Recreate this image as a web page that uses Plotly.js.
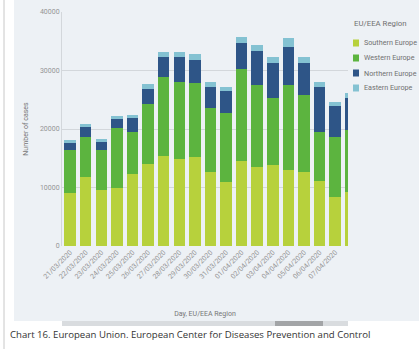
<!DOCTYPE html>
<html>
<head>
<meta charset="utf-8">
<script src="https://cdn.plot.ly/plotly-3.0.1.min.js"></script>
<style>
  html, body { margin: 0; padding: 0; background: #ffffff; }
  #chart { width: 419px; height: 349px; }
</style>
</head>
<body>
<div id="chart"></div>
<script>
// Daily reported COVID-19 cases by EU/EEA region
const days = [
  '21/03/2020', '22/03/2020', '23/03/2020', '24/03/2020', '25/03/2020',
  '26/03/2020', '27/03/2020', '28/03/2020', '29/03/2020', '30/03/2020',
  '31/03/2020', '01/04/2020', '02/04/2020', '03/04/2020', '04/04/2020',
  '05/04/2020', '06/04/2020', '07/04/2020', '08/04/2020'
];
const regions = ['Southern Europe', 'Western Europe', 'Northern Europe', 'Eastern Europe'];
const southern = [9060, 11800, 9570, 9900, 12300, 14000, 15400, 14900, 15200, 12650, 10950, 14550, 13500, 13850, 13000, 12650, 11100, 8400, 9250];
const western  = [7350, 6850, 6850, 10250, 7200, 10250, 13500, 13150, 12650, 10950, 11800, 15700, 14000, 11450, 14500, 13150, 8400, 10250, 10600];
const northern = [1200, 1700, 1350, 1550, 2400, 2550, 3400, 4250, 3950, 3600, 3750, 4450, 5800, 6000, 6500, 5450, 7700, 5300, 5450];
const eastern  = [500, 500, 500, 500, 500, 850, 850, 850, 1000, 850, 700, 1050, 1050, 1050, 1550, 1050, 850, 700, 850];
const regionColors = ['#b7d13c', '#5cb43f', '#2e5587', '#84c2d2'];
const yTicks = [0, 10000, 20000, 30000, 40000];

const series = [southern, western, northern, eastern];
const W = 419, H = 349;
const margin = {l: 62, r: 71, t: 12, b: 103};
const plotW = W - margin.l - margin.r, plotH = H - margin.t - margin.b;
// pixel -> paper helpers for the panel decorations
const px = x => (x - margin.l) / plotW;
const py = y => 1 - (y - margin.t) / plotH;

const font = 'Roboto, sans-serif';

const traces = series.map((vals, i) => ({
  type: 'bar',
  x: days,
  y: vals,
  name: regions[i],
  marker: {color: regionColors[i]},
  hoverinfo: 'x+y+name'
}));

const shapes = [
  // panel background
  {type: 'rect', xref: 'paper', yref: 'paper', layer: 'below',
   x0: px(14), x1: px(419), y0: py(321), y1: py(0),
   fillcolor: '#edf1f5', line: {width: 0}},
  // left frame line
  {type: 'line', xref: 'paper', yref: 'paper', layer: 'below',
   x0: px(4), x1: px(4), y0: py(349), y1: py(0),
   line: {color: '#c8c8c8', width: 1}},
  // scrollbar track and thumb
  {type: 'rect', xref: 'paper', yref: 'paper',
   x0: px(62), x1: px(348), y0: py(326), y1: py(321),
   fillcolor: '#d9dcdf', line: {width: 0}},
  {type: 'rect', xref: 'paper', yref: 'paper',
   x0: px(275), x1: px(323), y0: py(326), y1: py(321),
   fillcolor: '#a3a5a7', line: {width: 0}}
];

const annotations = [{
  xref: 'paper', yref: 'paper', x: px(8), y: py(334),
  xanchor: 'left', yanchor: 'middle', showarrow: false,
  text: 'Chart 16. European Union. European Center for Diseases Prevention and Control',
  font: {family: 'Open Sans, Noto Sans, sans-serif', size: 9.6, color: '#333333'}
}, {
  // legend heading
  xref: 'paper', yref: 'paper', x: px(352), y: py(23),
  xanchor: 'left', yanchor: 'middle', showarrow: false,
  text: 'EU/EEA Region',
  font: {family: font, size: 7.8, color: '#707070'}
}];

// legend keys: small colour squares with region names
regions.forEach((r, i) => {
  const cy = 43 + i * 15;
  shapes.push({type: 'rect', xref: 'paper', yref: 'paper',
    x0: px(353), x1: px(359), y0: py(cy + 3.5), y1: py(cy - 3.5),
    fillcolor: regionColors[i], line: {width: 0}});
  annotations.push({xref: 'paper', yref: 'paper', x: px(362), y: py(cy),
    xanchor: 'left', yanchor: 'middle', showarrow: false, text: r,
    font: {family: font, size: 7.2, color: '#707070'}});
});

const layout = {
  width: W, height: H,
  margin: margin,
  paper_bgcolor: '#ffffff',
  plot_bgcolor: 'rgba(0,0,0,0)',
  barmode: 'stack',
  bargap: 0.26,
  showlegend: false,
  font: {family: font, size: 7, color: '#959595'},
  xaxis: {
    type: 'category',
    range: [-0.52, 17.82],
    tickangle: -45,
    tickfont: {size: 7, color: '#959595'},
    showgrid: false, zeroline: false, showline: false,
    ticks: '', automargin: false,
    title: {text: 'Day, EU/EEA Region', font: {size: 7, color: '#777777'}, standoff: 31}
  },
  yaxis: {
    range: [0, 40000],
    tickvals: yTicks,
    ticktext: yTicks.map(String),
    tickfont: {size: 7, color: '#959595'},
    gridcolor: '#d3d7db', gridwidth: 1,
    zeroline: false, showline: true, linecolor: '#d3d7db',
    ticks: '', ticklen: 0, automargin: false,
    title: {text: 'Number of cases', font: {size: 7, color: '#777777'}, standoff: 10}
  },
  shapes: shapes,
  annotations: annotations
};

Plotly.newPlot('chart', traces, layout, {displayModeBar: false, staticPlot: true});
</script>
</body>
</html>
